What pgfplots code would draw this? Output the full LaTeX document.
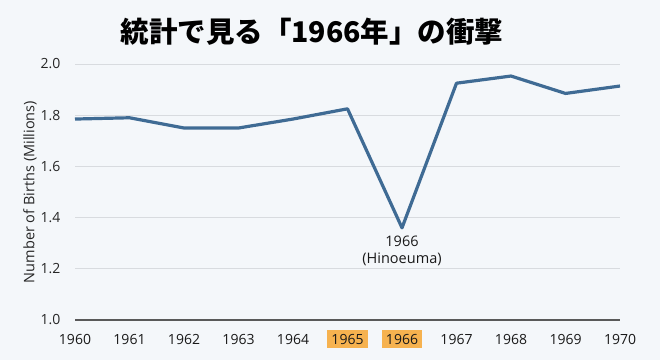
\documentclass[border=0pt]{standalone}
\usepackage{fontspec}
\usepackage{pgfplots}
\pgfplotsset{compat=1.18}
\setmainfont{Open Sans}
\newfontfamily\cjk{Noto Sans CJK JP}
\definecolor{bg}{HTML}{F4F7FA}
\definecolor{lineblue}{HTML}{3F6B94}
\definecolor{hl}{HTML}{F6B24F}
\definecolor{gridc}{HTML}{D8DBDF}
\newcommand{\hlbox}[1]{{\setlength{\fboxsep}{4pt}\colorbox{hl}{#1}}}
\begin{document}
\begin{tikzpicture}[x=1pt,y=1pt]
\fill[bg] (0,0) rectangle (660,360);
\path[use as bounding box] (0,0) rectangle (660,360);
\node[font=\cjk\bfseries\fontsize{28.5}{32}\selectfont] at (312,328) {統計で見る「1966年」の衝撃};
\begin{axis}[
  at={(75pt,40pt)}, anchor=south west,
  scale only axis, width=545pt, height=256pt,
  xmin=1960, xmax=1970, ymin=1, ymax=2,
  axis x line*=bottom, axis y line*=left,
  y axis line style={draw=none},
  x axis line style={draw=black!65, line width=1.2pt, -},
  major tick length=0pt,
  ytick={1,1.2,1.4,1.6,1.8,2.0},
  yticklabel shift=11pt,
  yticklabel style={/pgf/number format/fixed, /pgf/number format/fixed zerofill, /pgf/number format/precision=1, font=\fontsize{14}{16}\selectfont, text=black!85},
  /pgf/number format/assume math mode=true,
  xtick={1960,1961,1962,1963,1964,1965,1966,1967,1968,1969,1970},
  xticklabels={1960,1961,1962,1963,1964,\hlbox{1965},\hlbox{1966},1967,1968,1969,1970},
  xticklabel style={font=\fontsize{14}{16}\selectfont, text=black!90, anchor=base, yshift=-24pt},
  ymajorgrids=true,
  grid style={gridc, line width=0.7pt},
  ylabel={Number of Births (Millions)},
  ylabel style={font=\fontsize{14.5}{16}\selectfont, text=black!85, at={(axis description cs:0,0.5)}, anchor=center, yshift=45pt},
  clip=false,
]
\addplot[lineblue, line width=3.2pt, line join=round] coordinates {
(1960,1.785) (1961,1.79) (1962,1.75) (1963,1.75) (1964,1.785) (1965,1.825)
(1966,1.36) (1967,1.925) (1968,1.953) (1969,1.885) (1970,1.914)};
\node[align=center, font=\fontsize{14.5}{16.5}\selectfont, text=black!90, anchor=north] at (axis cs:1966,1.34) {1966\\(Hinoeuma)};
\end{axis}
\end{tikzpicture}
\end{document}
